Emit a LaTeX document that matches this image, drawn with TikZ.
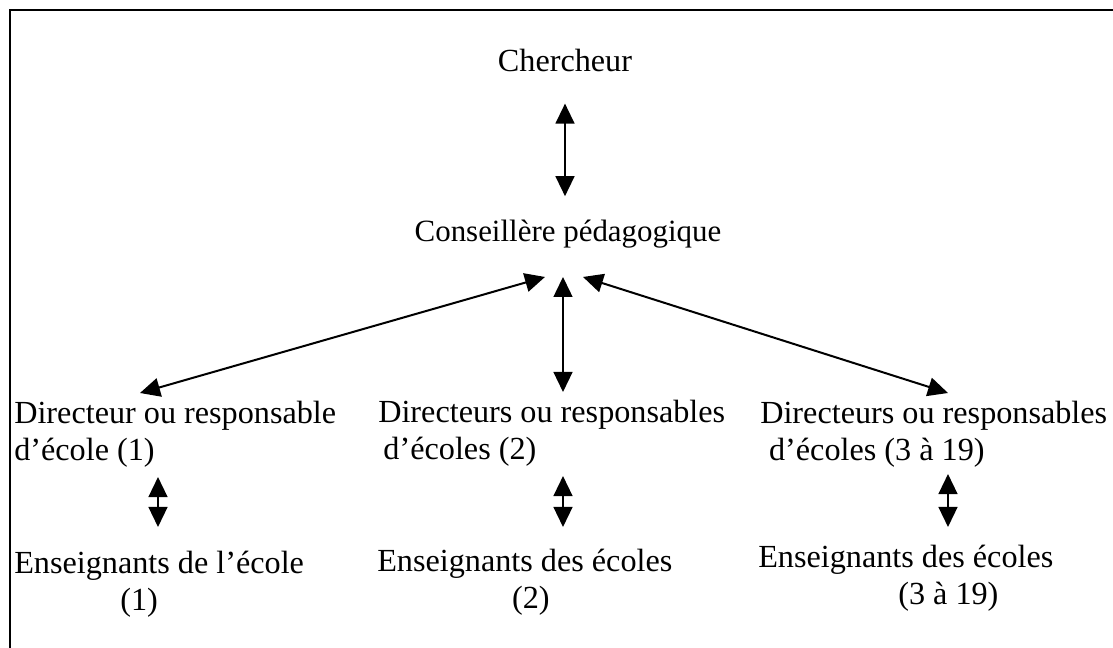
\documentclass[tikz,border=0pt]{standalone}
\usepackage{fontspec}
\setmainfont{Liberation Serif}
\usepackage{tikz}
\usetikzlibrary{arrows.meta}
\tikzset{
  txt/.style={inner sep=0pt, font=\fontsize{22.9}{26.5}\selectfont, align=left},
  arrow/.style={>={Triangle[length=0.5cm, width=0.47cm]}, <->, line width=0.05cm},
  frame/.style={line width=0.05cm}
}

\begin{document}
\begin{tikzpicture}[x=0.025cm, y=-0.025cm]
  \useasboundingbox (0,0) rectangle (1113,648);
  \draw[frame] (10,648) -- (10,10) -- (1113,10);

  % Level 0
  \node[txt, anchor=base] (cher) at (565,72) {Chercheur};
  \node[txt, anchor=base, font=\fontsize{22}{26}\selectfont] (cons) at (568,242) {Conseillère pédagogique};
  \draw[arrow] ([shift={(0,31)}]cher.south) -- ([shift={(-3,-24)}]cons.north);

  % Level 1
  \node[txt, anchor=north west] (dir1) at (14,401) {Directeur ou responsable\\d’école (1)};
  \node[txt, anchor=north west] (dir2) at (378,400) {Directeurs ou responsables\\\hspace{0.13cm}d’écoles (2)};
  \node[txt, anchor=north west] (dir3) at (760,401) {Directeurs ou responsables\\\hspace{0.22cm}d’écoles (3 à 19)};
  \draw[arrow] ([shift={(-23,28)}]cons.south) -- ([shift={(126,-8)}]dir1.north west);
  \draw[arrow] ([shift={(-5,28)}]cons.south) -- ([shift={(185,-8)}]dir2.north west);
  \draw[arrow] ([shift={(15,28)}]cons.south) -- ([shift={(188,-8)}]dir3.north west);

  % Level 2
  \node[txt, anchor=north west] (ens1) at (14,551) {Enseignants de l’école\\\hspace{2.65cm}(1)};
  \node[txt, anchor=north west] (ens2) at (377,549) {Enseignants des écoles\\\hspace{3.37cm}(2)};
  \node[txt, anchor=north west] (ens3) at (758,545) {Enseignants des écoles\\\hspace{3.5cm}(3 à 19)};
  \draw[arrow] ([shift={(144,9)}]dir1.south west) -- ([shift={(144,-24)}]ens1.north west);
  \draw[arrow] ([shift={(185,9)}]dir2.south west) -- ([shift={(186,-22)}]ens2.north west);
  \draw[arrow] ([shift={(188,6)}]dir3.south west) -- ([shift={(190,-18)}]ens3.north west);
\end{tikzpicture}
\end{document}
